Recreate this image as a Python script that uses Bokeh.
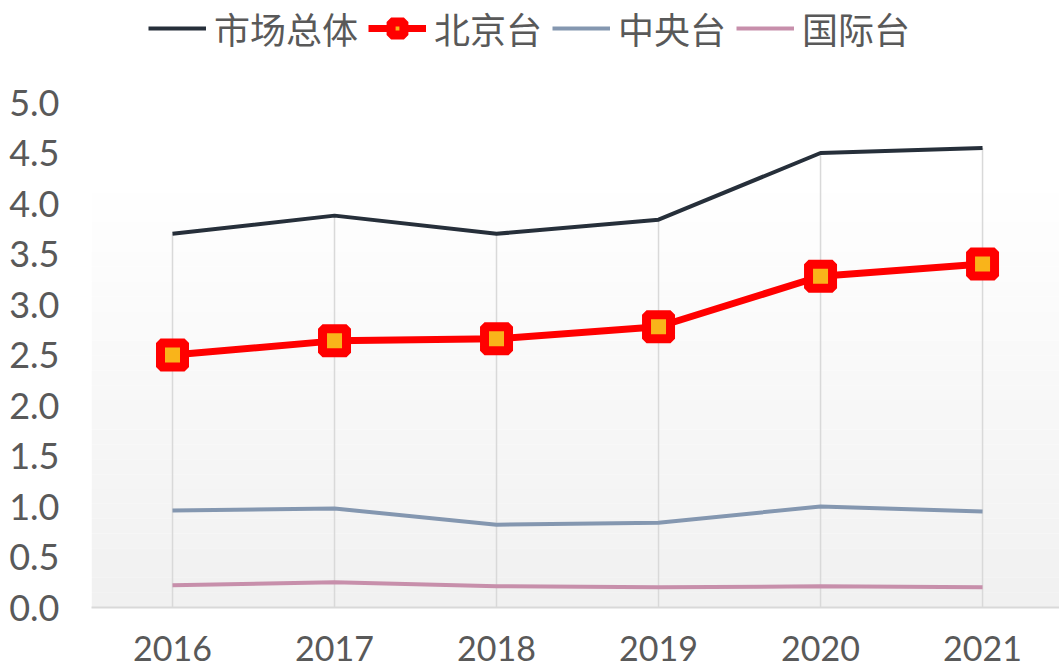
from bokeh.plotting import figure
from bokeh.models import Range1d, FixedTicker, Legend, LegendItem, BoxAnnotation
from bokeh.embed import file_html
from bokeh.resources import INLINE

years = ["2016", "2017", "2018", "2019", "2020", "2021"]
market_total = [3.70, 3.88, 3.70, 3.84, 4.50, 4.55]
beijing = [2.50, 2.64, 2.66, 2.78, 3.28, 3.40]
cctv = [0.96, 0.98, 0.82, 0.84, 1.00, 0.95]
international = [0.22, 0.25, 0.21, 0.20, 0.21, 0.20]
y_ticks = [0.0, 0.5, 1.0, 1.5, 2.0, 2.5, 3.0, 3.5, 4.0, 4.5, 5.0]

names = ["市场总体", "北京台", "中央台", "国际台"]

xs = list(range(len(years)))

p = figure(width=1059, height=671, output_backend="svg", toolbar_location=None,
           x_range=Range1d(-0.5, 5.475), y_range=Range1d(0, 6.01),
           min_border_left=91, min_border_right=0, min_border_top=0, min_border_bottom=64)
p.outline_line_color = None
p.background_fill_color = "white"
p.border_fill_color = "white"
p.xgrid.visible = False
p.ygrid.visible = False

# subtle vertical gradient background
nb = 30
top = 4.4
for i in range(nb):
    b0 = top * i / nb
    b1 = top * (i + 1) / nb
    t = i / (nb - 1)
    c = int(round(0xf1 + (0xff - 0xf1) * t))
    p.add_layout(BoxAnnotation(bottom=b0, top=b1, fill_color="#%02x%02x%02x" % (c, c, c),
                               fill_alpha=1.0, line_color=None, level="underlay"))

# drop lines
p.segment(x0=xs, y0=[0] * len(xs), x1=xs, y1=market_total, line_color="#d9d9d9", line_width=1.5)

r1 = p.line(xs, market_total, line_color="#262f3a", line_width=4)
r2l = p.line(xs, beijing, line_color="#ff0000", line_width=7)
r2m = p.scatter(xs, beijing, marker="square", size=24, line_color="#ff0000", line_width=9,
                fill_color="#f9b41a")
r3 = p.line(xs, cctv, line_color="#8497b0", line_width=4)
r4 = p.line(xs, international, line_color="#c78fab", line_width=4)

legend = Legend(items=[LegendItem(label=names[0], renderers=[r1]),
                       LegendItem(label=names[1], renderers=[r2l, r2m]),
                       LegendItem(label=names[2], renderers=[r3]),
                       LegendItem(label=names[3], renderers=[r4])],
                orientation="horizontal", location=(57, 553),
                label_text_font="Noto Sans CJK SC", label_text_font_size="36px",
                label_text_color="#595959", glyph_width=58, glyph_height=32,
                label_standoff=8, spacing=10, padding=0, margin=0,
                border_line_color=None, background_fill_alpha=0)
p.add_layout(legend, "center")

xa = p.xaxis[0]
xa.ticker = FixedTicker(ticks=xs)
xa.major_label_overrides = {i: y for i, y in enumerate(years)}
xa.axis_line_color = "#d9d9d9"
xa.axis_line_width = 2
xa.major_tick_line_color = None
xa.minor_tick_line_color = None
xa.major_label_text_font = "Lato"
xa.major_label_text_font_size = "34px"
xa.major_label_text_color = "#595959"
xa.major_label_standoff = 22

ya = p.yaxis[0]
ya.ticker = FixedTicker(ticks=y_ticks)
ya.major_label_overrides = {v: "%.1f" % v for v in y_ticks}
ya.axis_line_color = None
ya.major_tick_line_color = None
ya.minor_tick_line_color = None
ya.major_label_text_font = "Lato"
ya.major_label_text_font_size = "36px"
ya.major_label_text_color = "#595959"
ya.major_label_standoff = 26

open("out.html", "w").write(file_html(p, INLINE))
